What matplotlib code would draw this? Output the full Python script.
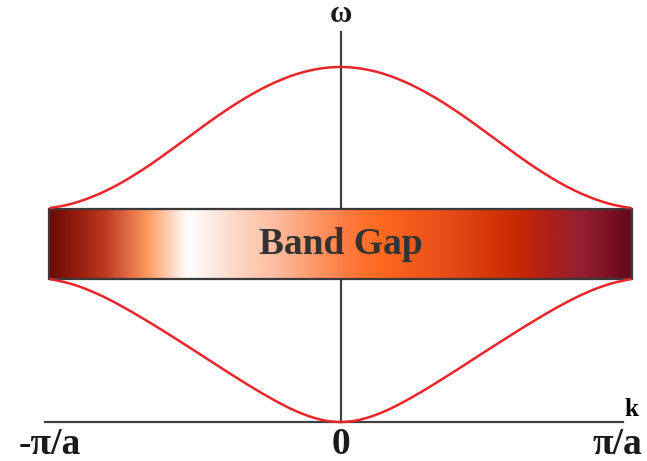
import matplotlib
matplotlib.use('Agg')
import matplotlib.pyplot as plt
import numpy as np
from matplotlib.colors import LinearSegmentedColormap
from matplotlib.patches import Rectangle, PathPatch
from matplotlib.path import Path

# wave vector in units of pi/a, half zone (0 .. pi/a)
k_half = [0.0, 0.05, 0.1, 0.15, 0.2, 0.25, 0.3, 0.35, 0.4, 0.45, 0.5,
          0.55, 0.6, 0.65, 0.7, 0.75, 0.8, 0.85, 0.9, 0.95, 1.0]
# optical branch (upper curve)
w_optical = [3.550, 3.542, 3.518, 3.480, 3.427, 3.362, 3.285, 3.199, 3.104,
             3.003, 2.897, 2.790, 2.684, 2.581, 2.486, 2.398, 2.321, 2.256,
             2.203, 2.164, 2.139]
# acoustic branch (lower curve)
w_acoustic = [0.0, 0.013, 0.050, 0.105, 0.175, 0.255, 0.340, 0.430, 0.522,
              0.616, 0.710, 0.803, 0.895, 0.985, 1.072, 1.155, 1.232, 1.300,
              1.357, 1.400, 1.430]
gap_low = 1.43
gap_high = 2.13
tick_pos = [-1.0, 0.0, 0.95]
tick_txt = ['-π/a', '0', 'π/a']

# gradient of the band gap box
grad_pos = [0.0, 0.053, 0.095, 0.134, 0.168, 0.237, 0.318, 0.397, 0.455, 0.512,
            0.567, 0.670, 0.727, 0.808, 0.854, 0.911, 0.967, 1.0]
grad_col = ['#6b0a05', '#9a2010', '#c03a22', '#e06a45', '#ff9a60', '#ffffff',
            '#fdd8c8', '#fdb898', '#ff9868', '#ff7a40', '#ff6a20', '#e85018',
            '#dc4010', '#c82800', '#b02018', '#962030', '#7a1022', '#600a1c']


def mirror(v, neg=False):
    v = np.array(v, dtype=float)
    left = -v[:0:-1] if neg else v[:0:-1]
    return np.concatenate([left, v])


def smooth_path(x, y):
    # catmull-rom through the read points, as cubic bezier segments
    p = np.column_stack([x, y])
    verts = [p[0]]
    codes = [Path.MOVETO]
    n = len(p)
    for i in range(n - 1):
        p0 = p[max(i - 1, 0)]
        p1 = p[i]
        p2 = p[i + 1]
        p3 = p[min(i + 2, n - 1)]
        c1 = p1 + (p2 - p0) / 6.0
        c2 = p2 - (p3 - p1) / 6.0
        verts += [c1, c2, p2]
        codes += [Path.CURVE4] * 3
    return Path(verts, codes)


k = mirror(k_half, neg=True)
wo = mirror(w_optical)
wa = mirror(w_acoustic)

fig = plt.figure(figsize=(6.47, 4.61), dpi=100)
ax = fig.add_axes([0, 0, 1, 1])
ax.axis('off')

# axes lines
ax.plot([-1.015, 0.971], [0, 0], color='#404040', lw=1.6, zorder=1)
ax.plot([0, 0], [0, 3.90], color='#404040', lw=1.6, zorder=1)

# band gap box
cmap = LinearSegmentedColormap.from_list('gap', list(zip(grad_pos, grad_col)))
grad = np.linspace(0, 1, 512).reshape(1, -1)
ax.imshow(grad, cmap=cmap, aspect='auto', extent=[-1, 1, gap_low, gap_high],
          zorder=2, interpolation='bilinear')
ax.add_patch(Rectangle((-1, gap_low), 2, gap_high - gap_low, fill=False,
                       edgecolor='#3a3a3a', lw=1.6, zorder=3))

# dispersion curves
for w in (wo, wa):
    ax.add_patch(PathPatch(smooth_path(k, w), fill=False, edgecolor='#e8262a',
                           lw=1.8, zorder=4))

ax.set_xlim(-1.170, 1.053)
ax.set_ylim(-0.39, 4.22)

serif = ['Liberation Serif', 'DejaVu Serif']
ax.text(0, (gap_low + gap_high) / 2, 'Band Gap', ha='center', va='center',
        fontsize=27, fontweight='bold', color='#333333', family=serif, zorder=5)
ax.text(0, 4.07, 'ω', ha='center', va='center', fontsize=22,
        fontweight='bold', color='#1a1a1a', family=serif)
ax.text(1.0, 0.13, 'k', ha='center', va='center', fontsize=18,
        fontweight='bold', color='black', family=serif)
for p, t in zip(tick_pos, tick_txt):
    ax.text(p, -0.22, t, ha='center', va='center', fontsize=27,
            fontweight='bold', color='#1a1a1a', family=serif)

plt.savefig('out.png', dpi=100)
